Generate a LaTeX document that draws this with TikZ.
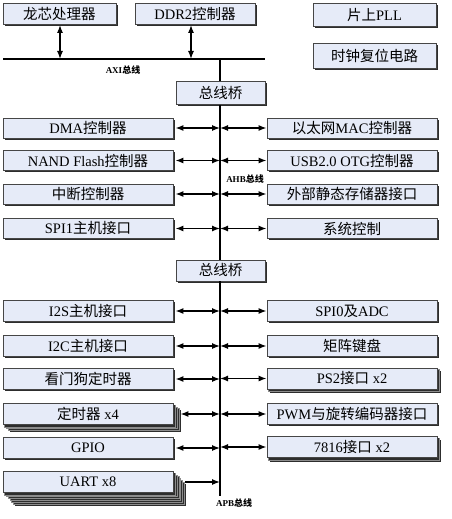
\documentclass[tikz,border=0pt]{standalone}
\usepackage{fontspec}
\setmainfont{Liberation Serif}
\newfontfamily\cjk{Noto Sans CJK SC}
\usetikzlibrary{arrows.meta,shadows,backgrounds}
\newcommand{\Z}[1]{{\cjk #1}}
\definecolor{boxfill}{RGB}{230,235,248}
\definecolor{boxline}{RGB}{70,70,70}
\definecolor{shade}{RGB}{45,45,45}
\definecolor{stackfill}{RGB}{45,45,45}
\definecolor{stackline}{RGB}{140,140,140}
\tikzset{
  blk/.style={draw=boxline, line width=0.8pt, fill=boxfill, inner sep=0pt,
    minimum height=21pt, font=\fontsize{14.5}{15}\selectfont, text=black,
    drop shadow={shadow xshift=1.8pt, shadow yshift=-1.8pt, fill=shade, opacity=1}},
  lbox/.style={blk, minimum width=170pt},
  rbox/.style={blk, minimum width=170pt},
  stackcopy/.style={fill=stackfill, draw=stackline, line width=0.3pt},
  stackshadow/.style={fill=shade},
  bus/.style={line width=2.2pt},
  tip/.tip={Latex[length=8pt,width=6pt]},
  link/.style={line width=1.3pt, tip-tip},
  onelink/.style={line width=1.3pt, -tip},
  buslabel/.style={font=\bfseries\fontsize{9}{9}\selectfont, inner sep=0pt}
}
\newcommand{\mystack}[2]{%
  \begin{scope}[on background layer]
    \pgfmathsetmacro{\lastoff}{(#2+1)*1.8}
    \fill[stackshadow] ([shift={(\lastoff,\lastoff)}]#1.north west) rectangle ([shift={(\lastoff,\lastoff)}]#1.south east);
    \foreach \k in {#2,...,1}{
      \draw[stackcopy] ([shift={(\k*1.8,\k*1.8)}]#1.north west) rectangle ([shift={(\k*1.8,\k*1.8)}]#1.south east);
    }
  \end{scope}}
\begin{document}
\begin{tikzpicture}[x=1pt, y=-1pt]
\useasboundingbox (0,0) rectangle (451,519);

% top boxes
\node[blk, minimum width=113pt] (cpu) at (59.5,14) {\Z{龙芯处理器}};
\node[blk, minimum width=120pt] (ddr) at (195,14) {DDR2\Z{控制器}};
\node[blk, minimum width=123pt, minimum height=23pt] (pll) at (374.5,15) {\Z{片上}PLL};
\node[blk, minimum width=123pt, minimum height=25pt] (clk) at (374.5,55.5) {\Z{时钟复位电路}};

% AXI bus
\coordinate (axil) at (3,59);
\coordinate (axir) at (265,59);
\coordinate (ax1) at (60,59);
\coordinate (ax2) at (191,59);
\coordinate (ax3) at (220,59);
\draw[bus] (axil) -- (axir);
\node[buslabel] (axilab) at (123,70) {AXI\Z{总线}};
\draw[link] (cpu.south -| ax1) -- (ax1);
\draw[link] (ddr.south -| ax2) -- (ax2);

% bridges
\node[blk, minimum width=89pt, minimum height=23pt] (br1) at (220.5,93) {\Z{总线桥}};
\node[blk, minimum width=89pt, minimum height=21pt] (br2) at (220.5,270.5) {\Z{总线桥}};
\draw[bus] (ax3) -- (ax3 |- br1.north);
\coordinate (busx) at (220,0);
\coordinate (apbend) at (220,496);
\draw[bus] (br1.south -| busx) -- (br2.north -| busx);
\draw[bus] (br2.south -| busx) -- (apbend);

% AHB devices
\node[lbox, minimum height=20pt] (dma) at (88,128) {DMA\Z{控制器}};
\node[lbox, minimum height=20pt] (nand) at (88,160.5) {NAND Flash\Z{控制器}};
\node[lbox, minimum height=20pt] (intc) at (88,194) {\Z{中断控制器}};
\node[lbox, minimum height=20pt] (spi1) at (88,228.5) {SPI1\Z{主机接口}};
\node[rbox, minimum height=20pt] (mac) at (352,128) {\Z{以太网}MAC\Z{控制器}};
\node[rbox, minimum height=20pt] (usb) at (352,160.5) {USB2.0 OTG\Z{控制器}};
\node[rbox, minimum height=20pt] (ext) at (352,194) {\Z{外部静态存储器接口}};
\node[rbox, minimum height=20pt] (sys) at (352,228.5) {\Z{系统控制}};
\node[buslabel] (ahblab) at (245,179) {AHB\Z{总线}};

% APB devices
\node[lbox] (i2s) at (88,311) {I2S\Z{主机接口}};
\node[lbox] (i2c) at (88,346) {I2C\Z{主机接口}};
\node[lbox] (wdt) at (88,379) {\Z{看门狗定时器}};
\node[lbox] (tmr) at (88,414) {\Z{定时器} x4};
\mystack{tmr}{3}
\node[lbox] (gpio) at (88,448) {GPIO};
\node[lbox] (uart) at (88,482) {UART x8};
\mystack{uart}{6}
\node[rbox] (spi0) at (352,311) {SPI0\Z{及}ADC};
\node[rbox] (kbd) at (352,346) {\Z{矩阵键盘}};
\node[rbox] (ps2) at (352,378.5) {PS2\Z{接口} x2};
\mystack{ps2}{1}
\node[rbox] (pwm) at (352,414) {PWM\Z{与旋转编码器接口}};
\node[rbox] (s7816) at (352,447) {7816\Z{接口} x2};
\mystack{s7816}{1}
\node[buslabel] (apblab) at (234,503) {APB\Z{总线}};

% connectors
\foreach \n in {dma,nand,intc,spi1,i2s,i2c,wdt,gpio}
  \draw[link] ([xshift=2pt]\n.east) -- (\n.east -| busx);
\draw[link] ([xshift=7pt]tmr.east) -- (tmr.east -| busx);
\foreach \n in {mac,usb,ext,sys,spi0,kbd,ps2,pwm,s7816}
  \draw[link] (\n.west -| busx) -- (\n.west);
\draw[onelink] ([xshift=12pt]uart.east) -- (uart.east -| busx);
\end{tikzpicture}
\end{document}
